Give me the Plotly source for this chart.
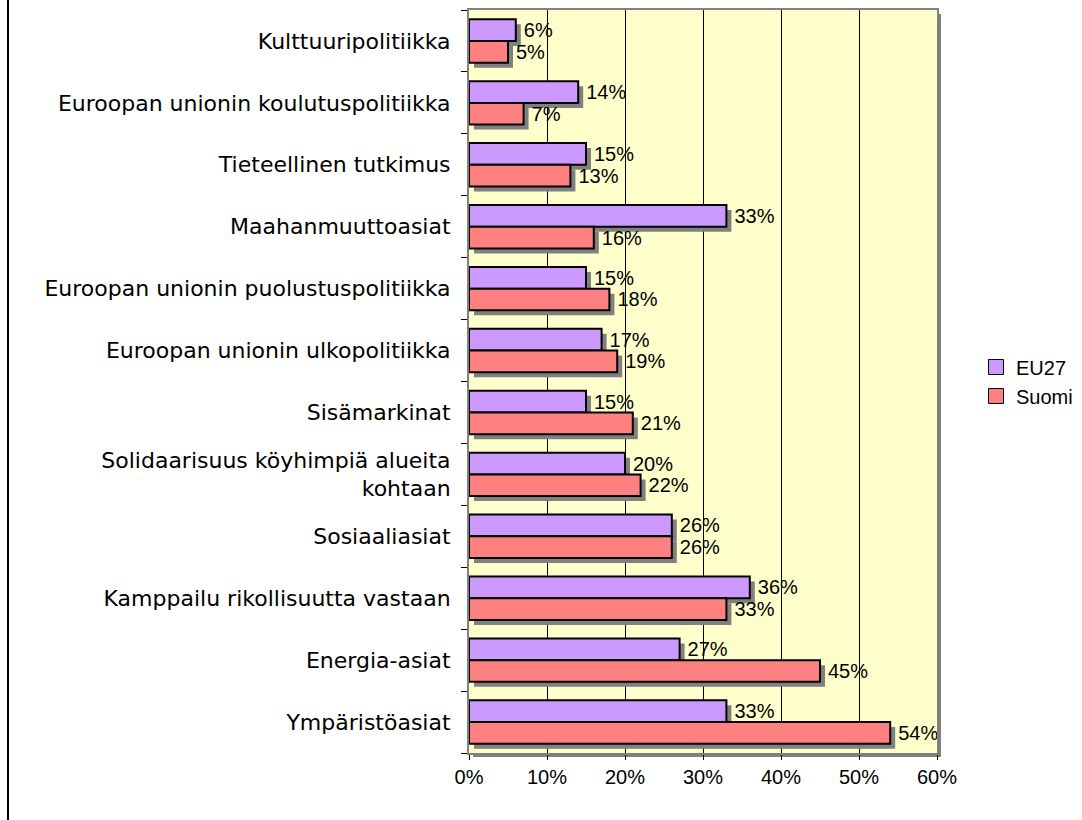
import plotly.graph_objects as go

# Data (bottom-to-top order as drawn on a category y axis)
categories = [
    "Ympäristöasiat",
    "Energia-asiat",
    "Kamppailu rikollisuutta vastaan",
    "Sosiaaliasiat",
    "Solidaarisuus köyhimpiä alueita<br>kohtaan",
    "Sisämarkinat",
    "Euroopan unionin ulkopolitiikka",
    "Euroopan unionin puolustuspolitiikka",
    "Maahanmuuttoasiat",
    "Tieteellinen tutkimus",
    "Euroopan unionin koulutuspolitiikka",
    "Kulttuuripolitiikka",
]
eu27 = [33, 27, 36, 26, 20, 15, 17, 15, 33, 15, 14, 6]
suomi = [54, 45, 33, 26, 22, 21, 19, 18, 16, 13, 7, 5]
x_ticks = [0, 10, 20, 30, 40, 50, 60]
x_tick_labels = ["0%", "10%", "20%", "30%", "40%", "50%", "60%"]

# Layout constants
W, H = 1082, 820
ML, MR, MT, MB = 469, 145, 10, 67
PW = W - ML - MR
PH = H - MT - MB
XMAX = 60
BAR_W = 0.35
SH_PX = 5
sh_x = SH_PX / PW * XMAX
sh_y = SH_PX / (PH / len(categories))

purple = "#CC99FF"
red = "#FF8080"
shadow = "#808080"
arial = "Liberation Sans, Arial, sans-serif"
verdana = "DejaVu Sans, Verdana, sans-serif"

fig = go.Figure()

series = [("EU27", eu27, purple, 0.0), ("Suomi", suomi, red, -BAR_W)]

# shadows
for name, vals, col, off in series:
    fig.add_trace(go.Bar(
        y=categories, x=vals, base=sh_x, orientation="h",
        offset=off - sh_y, width=BAR_W,
        marker=dict(color=shadow, line=dict(width=0)),
        showlegend=False, hoverinfo="skip",
    ))

# main bars
for name, vals, col, off in series:
    fig.add_trace(go.Bar(
        y=categories, x=vals, orientation="h", name=name,
        offset=off, width=BAR_W,
        marker=dict(color=col, line=dict(color="black", width=2)),
        showlegend=False,
    ))

# value labels (transparent carriers, placed past the shadow)
for name, vals, col, off in series:
    fig.add_trace(go.Bar(
        y=categories, x=vals, base=sh_x, orientation="h",
        offset=off, width=BAR_W,
        marker=dict(color="rgba(0,0,0,0)", line=dict(width=0)),
        text=[f"{v}%" for v in vals], textposition="outside",
        textfont=dict(family=arial, size=20, color="black"),
        constraintext="none", cliponaxis=False,
        showlegend=False, hoverinfo="skip",
    ))

# legend entries
for name, vals, col, off in series:
    fig.add_trace(go.Scatter(
        x=[None], y=[None], mode="markers", name=name,
        marker=dict(symbol="square", size=15, color=col,
                    line=dict(color="black", width=1)),
    ))

shapes = [
    # plot area shadow
    dict(type="rect", xref="paper", yref="paper",
         x0=1.0, x1=1 + 4 / PW, y0=-4 / PH, y1=1 - 4 / PH,
         fillcolor=shadow, line=dict(width=0), layer="below"),
    dict(type="rect", xref="paper", yref="paper",
         x0=4 / PW, x1=1 + 4 / PW, y0=-4 / PH, y1=0,
         fillcolor=shadow, line=dict(width=0), layer="below"),
    # chart frame left line
    dict(type="line", xref="paper", yref="paper",
         x0=(8 - ML) / PW, x1=(8 - ML) / PW,
         y0=-MB / PH, y1=1 + MT / PH,
         line=dict(color="black", width=2)),
]

fig.update_layout(
    width=W, height=H,
    margin=dict(l=ML, r=MR, t=MT, b=MB, autoexpand=False),
    paper_bgcolor="white",
    plot_bgcolor="#FFFFCC",
    barmode="overlay",
    shapes=shapes,
    showlegend=True,
    legend=dict(x=1 + (976 - ML - PW) / PW, xanchor="left",
                y=0.5, yanchor="middle",
                font=dict(family=arial, size=20, color="black"),
                bgcolor="rgba(0,0,0,0)", traceorder="normal",
                itemwidth=30, tracegroupgap=0),
    xaxis=dict(range=[0, XMAX], tickvals=x_ticks, ticktext=x_tick_labels,
               showgrid=True, gridcolor="black", gridwidth=1,
               showline=True, linecolor="#808080", linewidth=2, mirror=True,
               ticks="outside", ticklen=5, tickcolor="black",
               tickfont=dict(family=arial, size=20, color="black"),
               zeroline=False, fixedrange=True, automargin=False),
    yaxis=dict(categoryorder="array", categoryarray=categories,
               showline=True, linecolor="#808080", linewidth=2, mirror=True,
               ticks="outside", ticklen=6, tickcolor="black",
               tickson="boundaries", ticklabelstandoff=12,
               tickfont=dict(family=verdana, size=22, color="black"),
               showgrid=False, fixedrange=True, automargin=False),
    font=dict(family=arial, color="black"),
)

fig.write_html(
    "out.html",
    config={"displayModeBar": False},
    post_script="document.body.style.margin='0';document.body.style.overflow='hidden';",
)
